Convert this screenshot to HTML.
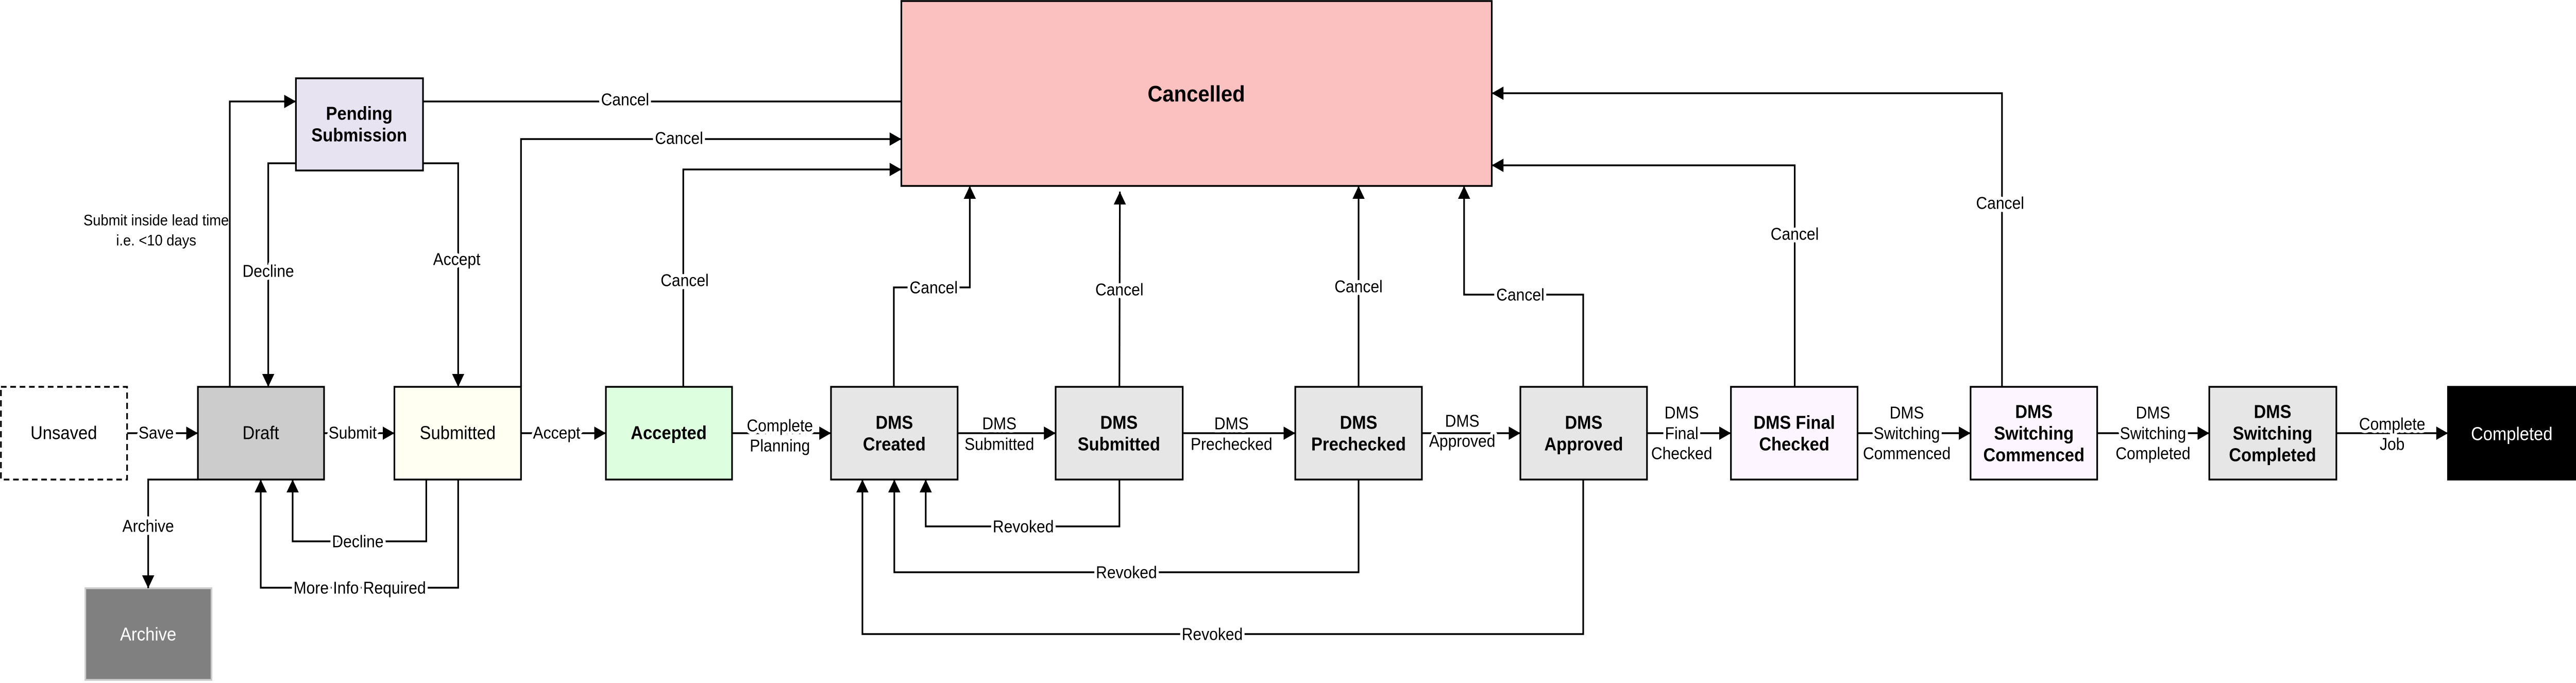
<!DOCTYPE html>
<html><head><meta charset="utf-8">
<style>
html,body{margin:0;padding:0;background:#fff;overflow:hidden;width:100%;height:100%;}
svg{display:block;position:absolute;left:0;top:0;width:100vw;height:100vh;}
text{font-family:"Liberation Sans",Arial,sans-serif;}
.lbl{font-size:33px;fill:#000;paint-order:stroke;stroke:#fff;stroke-width:12px;stroke-linejoin:round;}
.n{font-size:36px;}
.b{font-weight:bold;}
.e{fill:none;stroke:#000;stroke-width:3.5;}
</style></head>
<body>
<svg viewBox="0 0 5493 1326" preserveAspectRatio="none" xmlns="http://www.w3.org/2000/svg">
<defs>
<marker id="a" markerUnits="userSpaceOnUse" markerWidth="26" markerHeight="28" refX="25" refY="13" orient="auto">
<path d="M0,0 L25,13 L0,26 z" fill="#000"/>
</marker>
</defs>

<rect x="1922" y="2" width="1259" height="359" fill="#fbc0c0" stroke="#000" stroke-width="3.5"/>
<text x="2551" y="182" text-anchor="middle" dominant-baseline="central" class="b" font-size="44">Cancelled</text>

<rect x="2" y="751" width="269" height="180" fill="#fff" stroke="#000" stroke-width="3.5" stroke-dasharray="12,8"/>
<text x="136" y="841" text-anchor="middle" dominant-baseline="central" class="n">Unsaved</text>

<rect x="422" y="751" width="269" height="180" fill="#cccccc" stroke="#000" stroke-width="3.5"/>
<text x="556" y="841" text-anchor="middle" dominant-baseline="central" class="n">Draft</text>

<rect x="841" y="751" width="270" height="180" fill="#fffff2" stroke="#000" stroke-width="3.5"/>
<text x="976" y="841" text-anchor="middle" dominant-baseline="central" class="n">Submitted</text>

<rect x="1292" y="751" width="269" height="180" fill="#ddffe0" stroke="#000" stroke-width="3.5"/>
<text x="1426" y="841" text-anchor="middle" dominant-baseline="central" class="n b">Accepted</text>

<rect x="631" y="152" width="271" height="179" fill="#e8e3f0" stroke="#000" stroke-width="3.5"/>
<text x="766" y="221" text-anchor="middle" dominant-baseline="central" class="n b">Pending</text>
<text x="766" y="263" text-anchor="middle" dominant-baseline="central" class="n b">Submission</text>

<rect x="182" y="1142" width="269" height="178" fill="#808080" stroke="#cccccc" stroke-width="3.5"/>
<text x="316" y="1232" text-anchor="middle" dominant-baseline="central" class="n" fill="#fff">Archive</text>

<rect x="1772" y="751" width="270" height="180" fill="#e6e6e6" stroke="#000" stroke-width="3.5"/>
<text x="1907" y="821" text-anchor="middle" dominant-baseline="central" class="n b">DMS</text>
<text x="1907" y="863" text-anchor="middle" dominant-baseline="central" class="n b">Created</text>

<rect x="2251" y="751" width="271" height="180" fill="#e6e6e6" stroke="#000" stroke-width="3.5"/>
<text x="2386" y="821" text-anchor="middle" dominant-baseline="central" class="n b">DMS</text>
<text x="2386" y="863" text-anchor="middle" dominant-baseline="central" class="n b">Submitted</text>

<rect x="2762" y="751" width="270" height="180" fill="#e6e6e6" stroke="#000" stroke-width="3.5"/>
<text x="2897" y="821" text-anchor="middle" dominant-baseline="central" class="n b">DMS</text>
<text x="2897" y="863" text-anchor="middle" dominant-baseline="central" class="n b">Prechecked</text>

<rect x="3242" y="751" width="270" height="180" fill="#e6e6e6" stroke="#000" stroke-width="3.5"/>
<text x="3377" y="821" text-anchor="middle" dominant-baseline="central" class="n b">DMS</text>
<text x="3377" y="863" text-anchor="middle" dominant-baseline="central" class="n b">Approved</text>

<rect x="3691" y="751" width="270" height="180" fill="#fdf5ff" stroke="#000" stroke-width="3.5"/>
<text x="3826" y="821" text-anchor="middle" dominant-baseline="central" class="n b">DMS Final</text>
<text x="3826" y="863" text-anchor="middle" dominant-baseline="central" class="n b">Checked</text>

<rect x="4202" y="751" width="270" height="180" fill="#fdf5ff" stroke="#000" stroke-width="3.5"/>
<text x="4337" y="800" text-anchor="middle" dominant-baseline="central" class="n b">DMS</text>
<text x="4337" y="842" text-anchor="middle" dominant-baseline="central" class="n b">Switching</text>
<text x="4337" y="884" text-anchor="middle" dominant-baseline="central" class="n b">Commenced</text>

<rect x="4711" y="751" width="271" height="180" fill="#e6e6e6" stroke="#000" stroke-width="3.5"/>
<text x="4846" y="800" text-anchor="middle" dominant-baseline="central" class="n b">DMS</text>
<text x="4846" y="842" text-anchor="middle" dominant-baseline="central" class="n b">Switching</text>
<text x="4846" y="884" text-anchor="middle" dominant-baseline="central" class="n b">Completed</text>

<rect x="5220" y="751" width="273" height="180" fill="#000" stroke="#000" stroke-width="3.5"/>
<text x="5356" y="843" text-anchor="middle" dominant-baseline="central" class="n" fill="#fff">Completed</text>

<path class="e" d="M271,841 L422,841" marker-end="url(#a)"/>
<path class="e" d="M691,841 L841,841" marker-end="url(#a)"/>
<path class="e" d="M1111,841 L1292,841" marker-end="url(#a)"/>
<path class="e" d="M1561,841 L1772,841" marker-end="url(#a)"/>
<path class="e" d="M2042,841 L2251,841" marker-end="url(#a)"/>
<path class="e" d="M2522,841 L2762,841" marker-end="url(#a)"/>
<path class="e" d="M3032,841 L3242,841" marker-end="url(#a)"/>
<path class="e" d="M3512,841 L3691,841" marker-end="url(#a)"/>
<path class="e" d="M3961,841 L4202,841" marker-end="url(#a)"/>
<path class="e" d="M4472,841 L4711,841" marker-end="url(#a)"/>
<path class="e" d="M4982,841 L5220,841" marker-end="url(#a)"/>

<path class="e" d="M490,751 L490,197 L631,197" marker-end="url(#a)"/>
<path class="e" d="M631,317 L572,317 L572,751" marker-end="url(#a)"/>
<path class="e" d="M902,317 L977,317 L977,751" marker-end="url(#a)"/>
<path class="e" d="M902,197 L1922,197"/>
<path class="e" d="M1111,751 L1111,270 L1922,270" marker-end="url(#a)"/>
<path class="e" d="M1457,751 L1457,329 L1922,329" marker-end="url(#a)"/>
<path class="e" d="M422,931 L316,931 L316,1142" marker-end="url(#a)"/>
<path class="e" d="M909,931 L909,1051 L624,1051 L624,931" marker-end="url(#a)"/>
<path class="e" d="M977,931 L977,1141 L556,1141 L556,931" marker-end="url(#a)"/>

<path class="e" d="M1906,751 L1906,558 L2068,558 L2068,361" marker-end="url(#a)"/>
<path class="e" d="M2387,751 L2388,372" marker-end="url(#a)"/>
<path class="e" d="M2897,751 L2897,361" marker-end="url(#a)"/>
<path class="e" d="M3376,751 L3376,572 L3122,572 L3122,361" marker-end="url(#a)"/>
<path class="e" d="M3827,751 L3827,321 L3181,321" marker-end="url(#a)"/>
<path class="e" d="M4269,751 L4269,181 L3181,181" marker-end="url(#a)"/>

<path class="e" d="M2387,931 L2387,1022 L1974,1022 L1974,931" marker-end="url(#a)"/>
<path class="e" d="M2897,931 L2897,1111 L1907,1111 L1907,931" marker-end="url(#a)"/>
<path class="e" d="M3376,931 L3376,1231 L1839,1231 L1839,931" marker-end="url(#a)"/>

<g class="lbl" text-anchor="middle" dominant-baseline="central">
<text x="333" y="840">Save</text>
<text x="752" y="840">Submit</text>
<text x="1187" y="840">Accept</text>
<text x="1663" y="826">Complete</text>
<text x="1663" y="865">Planning</text>
<text x="2131" y="822">DMS</text>
<text x="2131" y="862">Submitted</text>
<text x="2626" y="822">DMS</text>
<text x="2626" y="862">Prechecked</text>
<text x="3118" y="817">DMS</text>
<text x="3118" y="856">Approved</text>
<text x="3586" y="801">DMS</text>
<text x="3586" y="841">Final</text>
<text x="3586" y="880">Checked</text>
<text x="4066" y="801">DMS</text>
<text x="4066" y="841">Switching</text>
<text x="4066" y="880">Commenced</text>
<text x="4591" y="801">DMS</text>
<text x="4591" y="841">Switching</text>
<text x="4591" y="880">Completed</text>
<text x="5101" y="823">Complete</text>
<text x="5101" y="862">Job</text>

<text x="572" y="526">Decline</text>
<text x="974" y="503">Accept</text>
<text x="1333" y="193">Cancel</text>
<text x="1448" y="268">Cancel</text>
<text x="1460" y="544">Cancel</text>
<text x="316" y="1021">Archive</text>
<text x="763" y="1051">Decline</text>
<text x="767" y="1141">More Info Required</text>

<text x="1991" y="558">Cancel</text>
<text x="2387" y="562">Cancel</text>
<text x="2897" y="556">Cancel</text>
<text x="3242" y="572">Cancel</text>
<text x="3827" y="454">Cancel</text>
<text x="4265" y="394">Cancel</text>

<text x="2182" y="1022">Revoked</text>
<text x="2402" y="1111">Revoked</text>
<text x="2585" y="1231">Revoked</text>
</g>
<g text-anchor="middle" dominant-baseline="central" font-size="30">
<text x="333" y="428">Submit inside lead time</text>
<text x="333" y="467">i.e. &lt;10 days</text>
</g>
</svg>
</body></html>
